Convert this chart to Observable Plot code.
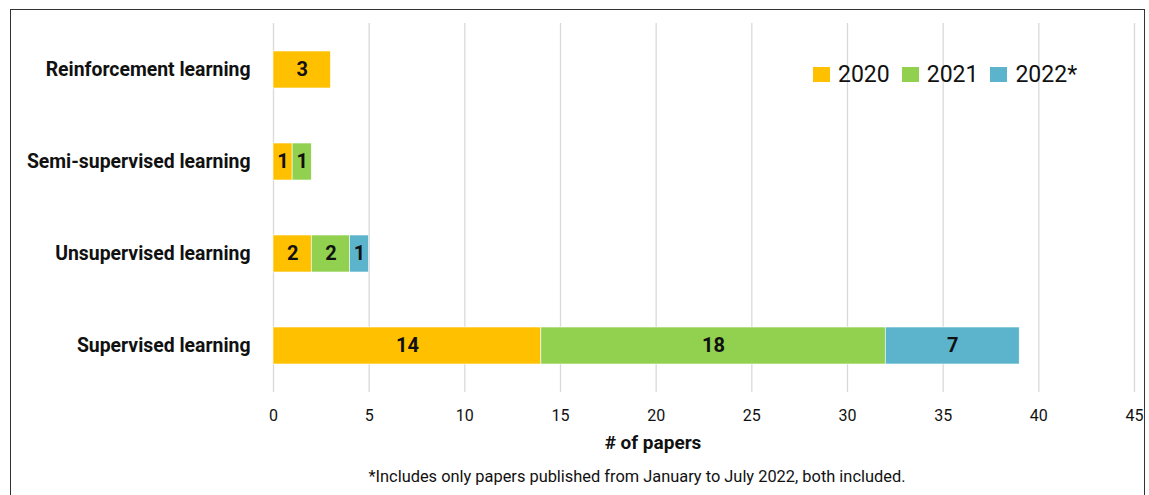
<!DOCTYPE html>
<html>
<head>
<meta charset="utf-8">
<script src="https://cdn.jsdelivr.net/npm/d3@7"></script>
<script src="https://cdn.jsdelivr.net/npm/@observablehq/plot@0.6"></script>
<style>
  body { margin: 0; background: #fff; font-family: Roboto, sans-serif; }
  #wrap { position: relative; width: 1149px; height: 495px; overflow: hidden; }
  #frame { position: absolute; left: 10px; top: 9px; width: 1135px; height: 600px; border: 1px solid #333; box-sizing: border-box; }
  #chart { position: absolute; left: 0; top: 0; }
  #legend { position: absolute; left: 813px; top: 61px; display: flex; align-items: center; font-size: 23px; color: #111; }
  .item { display: flex; align-items: center; margin-right: 12px; }
  .sw { width: 17px; height: 15px; margin-right: 8px; }
  #xlabel { position: absolute; left: 453px; width: 400px; top: 431px; text-align: center; font-weight: 700; font-size: 19px; color: #111; }
  #caption { position: absolute; left: 287px; width: 700px; top: 467px; text-align: center; font-size: 16.4px; color: #111; }
</style>
</head>
<body>
<div id="wrap">
  <div id="frame"></div>
  <div id="chart"></div>
  <div id="legend"></div>
  <div id="xlabel"># of papers</div>
  <div id="caption">*Includes only papers published from January to July 2022, both included.</div>
</div>
<script>
const categories = ["Reinforcement learning", "Semi-supervised learning", "Unsupervised learning", "Supervised learning"];
const years = ["2020", "2021", "2022*"];
const colors = ["#FFC000", "#92D050", "#5BB4CB"];
const v2020 = [3, 1, 2, 14];
const v2021 = [0, 1, 2, 18];
const v2022 = [0, 0, 1, 7];
const xTicks = [0, 5, 10, 15, 20, 25, 30, 35, 40, 45];

const series = [v2020, v2021, v2022];
const data = [];
years.forEach((y, j) => categories.forEach((c, i) => {
  if (series[j][i] > 0) data.push({cat: c, year: y, value: series[j][i]});
}));

const plot = Plot.plot({
  width: 1149,
  height: 430,
  marginLeft: 273,
  marginRight: 15,
  marginTop: 23,
  marginBottom: 38,
  style: {fontFamily: "Roboto, sans-serif", background: "transparent"},
  x: {domain: [0, 45], ticks: xTicks},
  y: {domain: categories, paddingInner: 0.6, paddingOuter: 0.3},
  color: {domain: years, range: colors},
  marks: [
    Plot.gridX(xTicks, {stroke: "#d9d9d9", strokeOpacity: 1, strokeWidth: 1.3}),
    Plot.axisX({ticks: xTicks, tickSize: 0, tickPadding: 17, fontSize: 16, label: null, color: "#111"}),
    Plot.axisY({tickSize: 0, tickPadding: 23, fontSize: 19.4, fontWeight: 700, label: null, color: "#111"}),
    Plot.barX(data, Plot.stackX({x: "value", y: "cat", fill: "year", order: years, stroke: "#fff", strokeWidth: 0.6})),
    Plot.text(data, Plot.stackX({x: "value", y: "cat", z: "year", order: years, text: d => String(d.value), fontSize: 20, fontWeight: 700, fill: "#111"}))
  ]
});
document.getElementById("chart").appendChild(plot);

const legend = d3.select("#legend");
years.forEach((y, j) => {
  const it = legend.append("div").attr("class", "item");
  it.append("div").attr("class", "sw").style("background", colors[j]);
  it.append("span").text(y);
});
</script>
</body>
</html>
